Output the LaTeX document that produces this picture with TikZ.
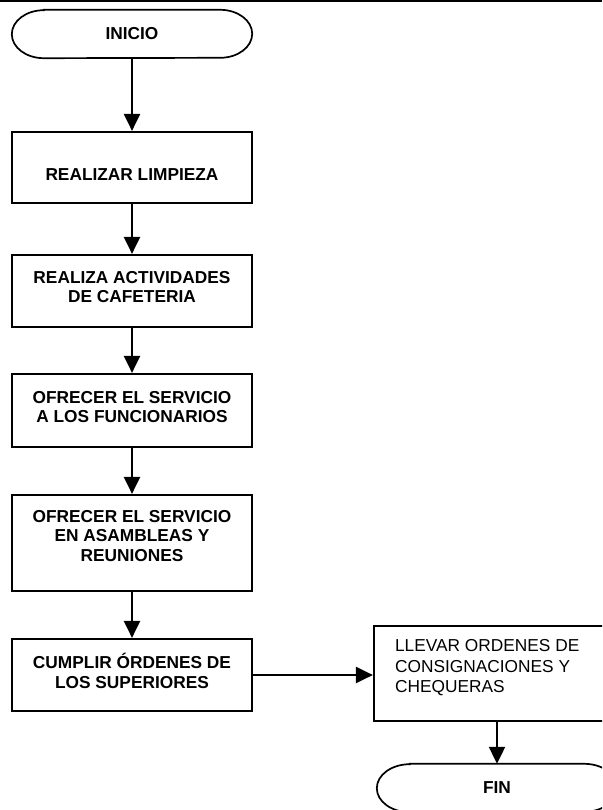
\documentclass[tikz,border=0pt]{standalone}
\usepackage{fontspec}
\setmainfont{Liberation Sans}
\usetikzlibrary{arrows.meta}
\begin{document}
\begin{tikzpicture}[x=1pt,y=-1pt,
  procbox/.style={draw,line width=2.2pt,rectangle,minimum width=240pt,inner sep=0pt},
  boxtext/.style={align=center,inner sep=0pt,font=\fontsize{17.3}{19.5}\selectfont\bfseries},
  term/.style={rectangle,minimum width=240pt,minimum height=48pt,inner sep=0pt,font=\fontsize{17.3}{19.5}\selectfont\bfseries},
  termline/.style={line width=1.7pt},
  flow/.style={line width=2.2pt,-{Triangle[length=17pt,width=16pt]}}]
\useasboundingbox (0,0) rectangle (602,810);
\clip (0,0) rectangle (602,810);
\fill[white] (0,0) rectangle (602,810);
\draw[line width=2pt] (0,1) -- (602,1);

\node[term] (ini) at (132,34) {INICIO};
\node[procbox,minimum height=71pt] (b1) at (132,167.5) {};
\node[procbox,minimum height=72pt] (b2) at (132,291) {};
\node[procbox,minimum height=73pt] (b3) at (132,410.5) {};
\node[procbox,minimum height=96pt] (b4) at (132,543) {};
\node[procbox,minimum height=72pt] (b5) at (132,675) {};
\node[procbox,minimum height=95pt] (b6) at (494,673.5) {};
\node[term] (fin) at (497,788) {FIN};

\draw[termline] ([xshift=32pt]ini.north west) -- ([xshift=-32pt]ini.north east)
  arc[start angle=90,end angle=-90,x radius=32pt,y radius=24pt]
  -- ([xshift=32pt]ini.south west)
  arc[start angle=270,end angle=90,x radius=32pt,y radius=24pt] -- cycle;
\draw[termline] ([xshift=33pt]fin.north west) -- ([xshift=-33pt]fin.north east)
  arc[start angle=90,end angle=-90,x radius=33pt,y radius=24pt]
  -- ([xshift=33pt]fin.south west)
  arc[start angle=270,end angle=90,x radius=33pt,y radius=24pt] -- cycle;

\node[boxtext] (t1) at ([yshift=-7pt]b1.center) {REALIZAR LIMPIEZA};
\node[boxtext] (t2) at ([yshift=4pt]b2.center) {REALIZA ACTIVIDADES\\DE CAFETERIA};
\node[boxtext] (t3) at ([yshift=3.5pt]b3.center) {OFRECER EL SERVICIO\\A LOS FUNCIONARIOS};
\node[boxtext] (t4) at ([yshift=7pt]b4.center) {OFRECER EL SERVICIO\\EN ASAMBLEAS Y\\REUNIONES};
\node[boxtext] (t5) at ([yshift=4pt]b5.center) {CUMPLIR ÓRDENES DE\\LOS SUPERIORES};
\node[align=left,inner sep=0pt,anchor=west,font=\fontsize{17.3}{20.5}\selectfont] (t6) at ([xshift=22pt,yshift=5.5pt]b6.west) {LLEVAR ORDENES DE\\CONSIGNACIONES Y\\CHEQUERAS};

\draw[flow] (ini) -- (b1);
\draw[flow] (b1) -- (b2);
\draw[flow] (b2) -- (b3);
\draw[flow] (b3) -- (b4);
\draw[flow] (b4) -- (b5);
\draw[flow] (b5.east) -- (b6.west |- b5.east);
\draw[flow] (b6.south -| fin.north) -- (fin.north);
\end{tikzpicture}
\end{document}
